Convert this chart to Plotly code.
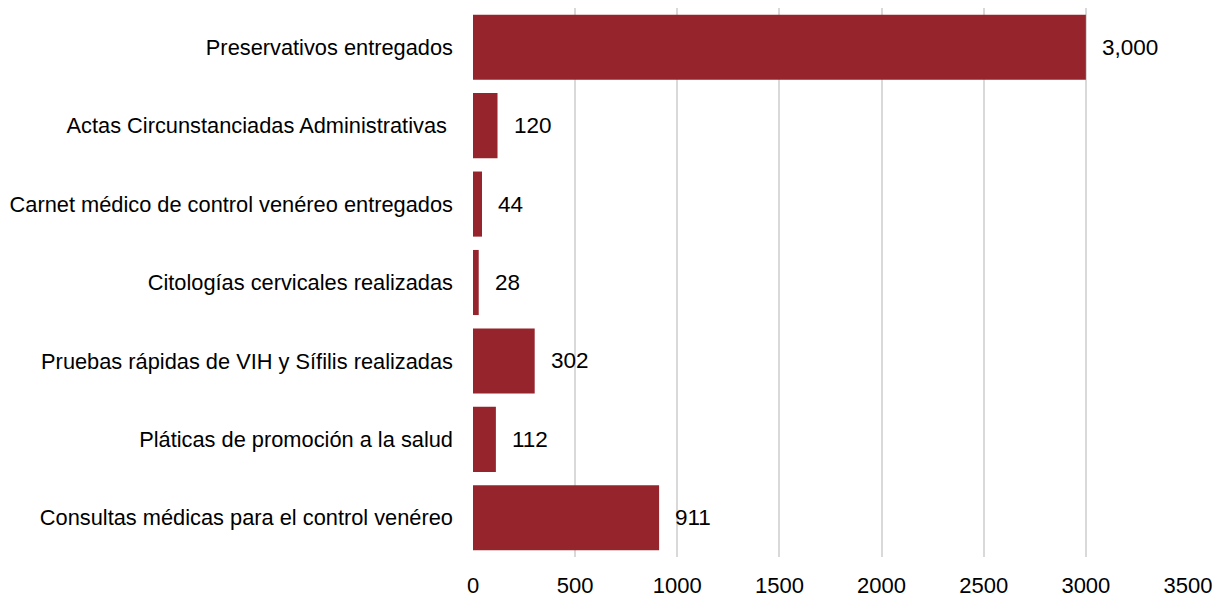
import plotly.graph_objects as go

# Data
categorias = [
    "Preservativos entregados",
    "Actas Circunstanciadas Administrativas ",
    "Carnet médico de control venéreo entregados",
    "Citologías cervicales realizadas",
    "Pruebas rápidas de VIH y Sífilis realizadas",
    "Pláticas de promoción a la salud",
    "Consultas médicas para el control venéreo",
]
valores = [3000, 120, 44, 28, 302, 112, 911]
etiquetas = ["3,000", "120", "44", "28", "302", "112", "911"]

color_barra = "#95242C"
fuente = "Liberation Sans, Arial, Helvetica, sans-serif"

fig = go.Figure()
fig.add_trace(go.Bar(
    x=valores, y=categorias, orientation="h",
    marker=dict(color=color_barra, line=dict(width=0)),
    hoverinfo="x+y",
))

# value labels
for cat, val, txt in zip(categorias, valores, etiquetas):
    fig.add_annotation(x=val, y=cat, xref="x", yref="y", text=txt, showarrow=False,
                       xanchor="left", xshift=14, font=dict(size=22.5, color="#000000", family=fuente))

fig.update_xaxes(range=[0, 3500], dtick=500, showgrid=True, gridcolor="#D9D9D9", gridwidth=1.5,
                 zeroline=False, showline=False, tickfont=dict(size=22, color="#000000", family=fuente),
                 ticklabelstandoff=13)
fig.update_yaxes(autorange="reversed", showgrid=False, showline=False, ticks="",
                 tickfont=dict(size=21.8, color="#000000", family=fuente), ticklabelstandoff=19)

fig.update_layout(
    width=1229, height=598,
    margin=dict(l=465, r=49, t=0, b=49, autoexpand=False),
    bargap=0.17,
    plot_bgcolor="white", paper_bgcolor="white",
    showlegend=False,
    font=dict(family=fuente, color="#000000"),
)

fig.write_html("out.html")
